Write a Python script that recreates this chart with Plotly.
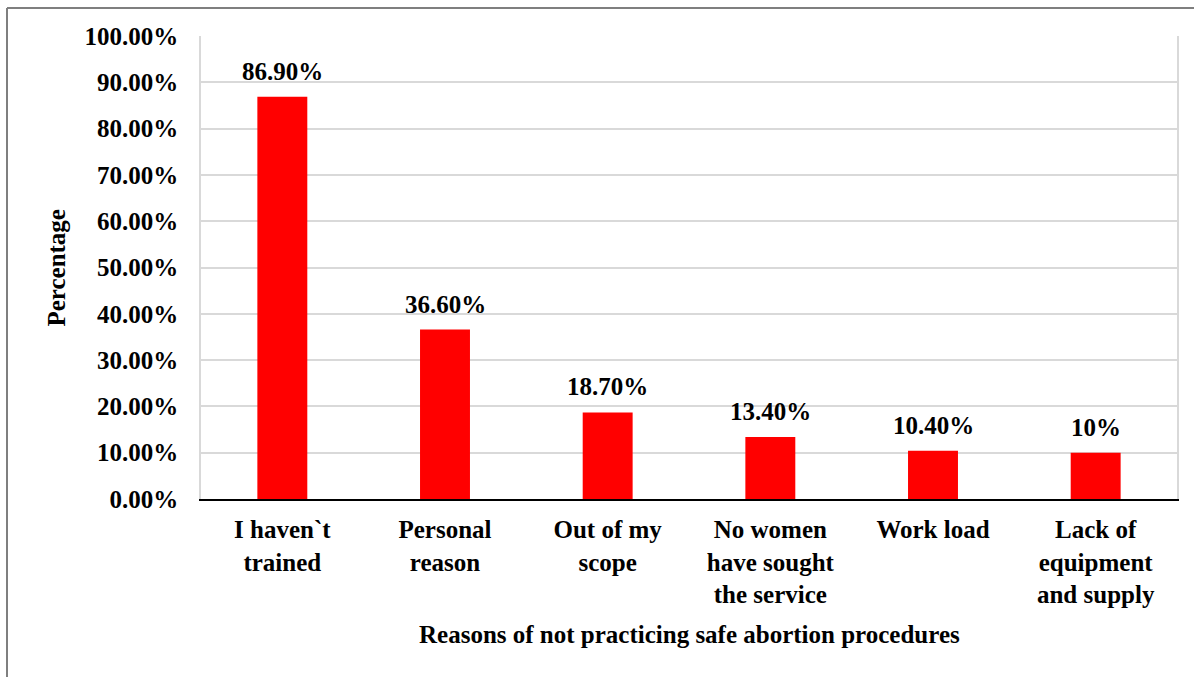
import plotly.graph_objects as go

categories = [
    "I haven`t<br>trained",
    "Personal<br>reason",
    "Out of my<br>scope",
    "No women<br>have sought<br>the service",
    "Work load",
    "Lack of<br>equipment<br>and supply",
]
values = [86.9, 36.6, 18.7, 13.4, 10.4, 10.0]
value_labels = ["86.90%", "36.60%", "18.70%", "13.40%", "10.40%", "10%"]
y_ticks = [0, 10, 20, 30, 40, 50, 60, 70, 80, 90, 100]
y_tick_labels = [f"{t:.2f}%" for t in y_ticks]

FONT = "Liberation Serif"
bold = dict(family=FONT, size=25, color="black", weight="bold")

fig = go.Figure(
    go.Bar(
        x=categories,
        y=values,
        marker=dict(color="#ff0000", line=dict(width=0)),
        hoverinfo="skip",
    )
)

# value labels above each bar
for cat, v, lab in zip(categories, values, value_labels):
    fig.add_annotation(
        x=cat, y=v, text=lab, showarrow=False,
        yanchor="bottom", yshift=10, font=bold,
    )

# axis titles
fig.add_annotation(
    x=0.5, y=-0.2916, xref="paper", yref="paper",
    text="Reasons of not practicing safe abortion procedures",
    showarrow=False, xanchor="center", yanchor="middle", font=bold,
)
fig.add_annotation(
    x=-0.1485, y=0.5, xref="paper", yref="paper",
    text="Percentage", textangle=-90,
    showarrow=False, xanchor="center", yanchor="middle", font=bold,
)

# outer frame (left and top edges)
frame = dict(color="#7f7f7f", width=2)
fig.add_shape(type="line", xref="paper", yref="paper",
              x0=(7 - 201) / 976, x1=(7 - 201) / 976,
              y0=(499 - 8) / 463, y1=(499 - 690) / 463, line=frame)
fig.add_shape(type="line", xref="paper", yref="paper",
              x0=(7 - 201) / 976, x1=(1200 - 201) / 976,
              y0=(499 - 8) / 463, y1=(499 - 8) / 463, line=frame)

fig.update_layout(
    width=1194, height=677,
    margin=dict(l=201, r=17, t=36, b=178),
    paper_bgcolor="white", plot_bgcolor="white",
    bargap=0.693,
    showlegend=False,
)
fig.update_xaxes(
    tickfont=bold, showgrid=False, ticks="", ticklabelstandoff=7,
    showline=True, linecolor="black", linewidth=2,
    mirror=False,
)
fig.update_yaxes(
    range=[0, 100], tickvals=y_ticks, ticktext=y_tick_labels,
    tickfont=bold, ticklabelstandoff=16,
    showgrid=True, gridcolor="#d9d9d9", gridwidth=1.5,
    zeroline=False, showline=True, linecolor="#d9d9d9", linewidth=1.5,
    mirror=True,
)

fig.write_html("out.html")
